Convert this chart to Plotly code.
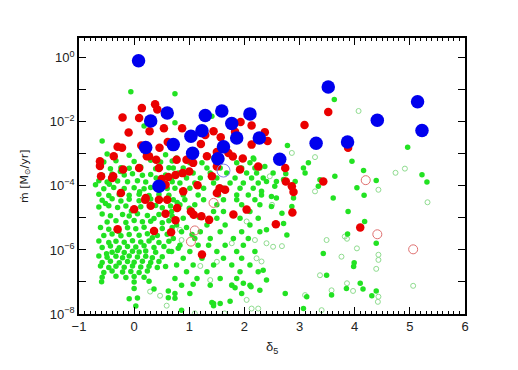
import numpy as np
import plotly.graph_objects as go

# (delta_5, log10 mdot [Msun/yr])
green_pts = [
    (-0.58, -4.45), (-0.40, -4.40), (-0.24, -4.47), (-0.09, -4.42), (0.09, -4.46), (0.30, -4.41),
    (-0.64, -4.66), (-0.46, -4.62), (-0.30, -4.67), (-0.15, -4.63), (0.12, -4.65), (0.39, -4.61), (0.51, -4.68), (0.66, -4.63),
    (-0.58, -4.88), (-0.43, -4.93), (-0.21, -4.89), (-0.09, -4.94), (0.06, -4.87), (0.24, -4.92), (0.45, -4.89), (0.69, -4.95),
    (-0.49, -5.13), (-0.33, -5.09), (-0.15, -5.14), (0.00, -5.08), (0.15, -5.12), (0.30, -5.10), (0.51, -5.15), (0.63, -5.09),
    (-0.61, -5.30), (-0.46, -5.35), (-0.12, -5.31), (0.03, -5.34), (0.18, -5.29), (0.51, -5.33), (0.69, -5.30),
    (-0.55, -5.55), (-0.40, -5.50), (-0.24, -5.56), (-0.09, -5.52), (0.09, -5.54), (0.24, -5.49), (0.42, -5.55), (0.60, -5.51),
    (-0.64, -5.72), (-0.46, -5.77), (-0.33, -5.73), (-0.18, -5.76), (-0.03, -5.71), (0.12, -5.75), (0.27, -5.72), (0.45, -5.77), (0.63, -5.73),
    (-0.58, -5.92), (-0.43, -5.88), (-0.27, -5.93), (-0.12, -5.89), (0.03, -5.91), (0.18, -5.87), (0.36, -5.92), (0.54, -5.89),
    (-0.40, -6.07), (-0.30, -6.02), (-0.18, -6.08), (-0.03, -6.04), (0.09, -6.06), (0.21, -6.03), (0.39, -6.07), (0.63, -6.04),
    (-0.64, -6.19), (-0.49, -6.23), (-0.33, -6.20), (-0.21, -6.24), (-0.09, -6.19), (0.06, -6.22), (0.21, -6.20), (0.33, -6.24), (0.51, -6.21),
    (-0.58, -6.39), (-0.43, -6.35), (-0.27, -6.40), (-0.12, -6.36), (0.00, -6.38), (0.15, -6.35), (0.30, -6.39), (0.45, -6.36),
    (-0.61, -6.50), (-0.46, -6.55), (-0.33, -6.51), (-0.18, -6.54), (-0.03, -6.50), (0.12, -6.53), (0.27, -6.51), (0.42, -6.55), (0.57, -6.52),
    (-0.55, -6.70), (-0.40, -6.66), (-0.21, -6.69), (-0.06, -6.67), (0.09, -6.70), (0.24, -6.66),
    (-0.58, -6.85), (-0.33, -6.82), (-0.15, -6.86), (0.00, -6.83), (0.18, -6.85),
    (-0.59, -6.99), (0.00, -7.00), (0.27, -6.98), (0.00, -7.20), (0.36, -7.22),
    (-0.09, -7.52), (0.06, -7.50), (0.03, -7.75),
    (-0.49, -3.00), (-0.09, -3.04), (0.21, -2.99), (0.57, -3.03),
    (-0.55, -3.25), (-0.33, -3.21), (0.00, -3.24), (0.30, -3.20), (0.48, -3.25), (0.69, -3.22),
    (-0.61, -3.42), (-0.43, -3.46), (-0.24, -3.43), (-0.09, -3.45), (0.12, -3.41), (0.39, -3.46), (0.63, -3.43),
    (-0.58, -3.67), (-0.40, -3.63), (-0.18, -3.66), (-0.03, -3.62), (0.15, -3.67), (0.30, -3.64), (0.57, -3.66),
    (-0.64, -3.84), (-0.49, -3.88), (-0.30, -3.85), (-0.12, -3.87), (0.06, -3.84), (0.21, -3.88), (0.51, -3.85), (0.69, -3.87),
    (-0.55, -4.09), (-0.37, -4.05), (-0.18, -4.08), (0.00, -4.06), (0.18, -4.09), (0.30, -4.05), (0.60, -4.08),
    (-0.64, -4.26), (-0.46, -4.30), (-0.27, -4.27), (-0.09, -4.29), (0.09, -4.26), (0.27, -4.30), (0.45, -4.27), (0.63, -4.29),
    (-0.70, -3.96), (-0.58, -2.60), (0.18, -2.13), (-0.06, -1.06), (0.74, -1.12),
    (0.77, -3.13), (1.44, -3.13), (2.16, -3.13),
    (1.01, -3.28), (1.23, -3.28), (1.86, -3.28), (2.10, -3.28),
    (0.71, -3.44), (0.89, -3.44), (1.32, -3.44), (1.56, -3.44), (1.95, -3.44), (2.28, -3.44),
    (0.80, -3.60), (1.07, -3.60), (1.38, -3.60), (1.68, -3.60), (2.04, -3.60), (2.22, -3.60),
    (0.68, -3.75), (0.95, -3.75), (1.20, -3.75), (1.50, -3.75), (1.83, -3.75), (2.13, -3.75), (2.34, -3.75),
    (0.83, -3.91), (1.10, -3.91), (1.44, -3.91), (1.74, -3.91), (1.98, -3.91), (2.25, -3.91),
    (0.74, -4.07), (1.01, -4.07), (1.26, -4.07), (1.62, -4.07), (1.92, -4.07), (2.16, -4.07),
    (0.89, -4.28), (1.16, -4.28), (1.53, -4.28), (1.86, -4.28), (2.07, -4.28), (2.31, -4.28),
    (1.41, -1.82), (1.77, -1.96), (0.74, -2.03),
    (0.71, -4.43), (0.92, -4.43), (1.26, -4.43), (1.62, -4.43), (1.86, -4.43), (2.19, -4.43),
    (0.83, -4.59), (1.10, -4.59), (1.50, -4.59), (1.95, -4.59), (2.28, -4.59),
    (0.68, -4.80), (1.44, -4.80), (1.62, -4.80), (2.10, -4.80),
    (0.89, -5.01), (1.50, -5.01), (1.92, -5.01), (2.25, -5.01),
    (0.77, -5.22), (1.32, -5.22), (1.65, -5.22), (2.10, -5.22),
    (0.86, -5.43), (1.20, -5.43), (1.56, -5.43), (1.95, -5.43), (2.28, -5.43),
    (0.71, -5.64), (1.10, -5.64), (1.38, -5.64), (1.80, -5.64), (2.07, -5.64),
    (0.83, -5.85), (1.16, -5.85), (1.35, -5.85), (1.65, -5.85), (1.98, -5.85),
    (0.68, -6.05), (1.01, -6.05), (1.50, -6.05), (1.86, -6.05), (2.19, -6.05),
    (0.89, -6.26), (1.23, -6.26), (1.62, -6.26), (1.95, -6.26),
    (0.77, -6.47), (1.07, -6.47), (1.44, -6.47), (1.77, -6.47), (2.10, -6.47),
    (0.95, -6.68), (1.32, -6.68), (1.92, -6.68), (2.25, -6.68),
    (0.74, -6.89), (1.14, -6.89), (1.56, -6.89), (1.86, -6.89),
    (0.86, -7.10), (1.38, -7.10), (1.77, -7.10), (2.10, -7.10),
    (1.01, -7.36), (1.95, -7.36), (1.44, -7.67), (1.56, -7.67), (0.86, -7.88),
    (3.16, -3.28), (3.07, -3.44), (3.10, -3.60), (2.37, -3.39), (2.52, -3.60), (2.40, -3.86),
    (2.58, -3.86), (2.55, -4.01), (2.92, -3.86), (3.64, -3.70), (3.37, -3.81), (3.34, -4.01),
    (3.61, -4.38), (2.31, -4.17), (2.49, -4.33),
    (3.63, -1.30), (2.78, -2.74), (4.96, -2.79), (3.95, -3.23), (4.16, -3.52), (4.39, -3.83),
    (5.22, -3.65), (5.31, -3.88), (2.17, -3.16), (2.19, -3.44), (2.75, -3.62), (2.71, -3.80),
    (2.58, -4.38), (2.89, -4.38), (2.86, -4.64), (2.68, -4.85), (2.49, -4.64), (2.71, -5.17),
    (2.77, -5.53), (2.40, -5.37), (3.88, -4.80), (3.43, -6.11), (3.49, -6.79), (2.34, -6.63),
    (2.40, -6.94), (2.74, -7.36), (3.13, -7.46), (3.58, -7.41), (3.85, -7.20), (3.07, -7.83), (2.28, -7.26),
    (4.04, -4.06), (4.17, -4.29), (4.18, -5.11), (3.87, -5.50), (4.39, -5.79), (3.99, -6.40),
    (3.98, -6.52), (4.10, -7.04), (4.39, -7.28), (4.31, -7.43), (4.15, -7.22),
    (0.62, -7.28), (0.62, -7.49), (0.74, -7.36), (0.74, -7.51), (1.07, -7.07), (1.41, -7.64),
    (1.44, -7.74), (1.74, -7.60), (1.83, -7.18), (1.98, -7.04), (2.12, -7.15),
    (0.78, -4.52), (1.00, -4.70), (1.18, -4.98), (0.95, -5.30), (1.05, -5.52), (0.80, -5.95),
    (-0.52, -4.55), (-0.05, -4.78), (0.36, -5.02), (-0.28, -5.42), (0.33, -5.62), (-0.50, -6.12),
    (-0.25, -3.55), (0.40, -3.75), (-0.45, -3.95), (0.10, -4.18),
]

green_open_pts = [
    (2.04, -5.11), (2.22, -6.26), (1.50, -6.37), (0.86, -5.69), (1.77, -5.79), (2.19, -5.69),
    (1.38, -6.94), (1.77, -7.10), (2.86, -2.97), (2.46, -3.70), (3.28, -4.17),
    (2.40, -5.79), (2.52, -5.90), (2.68, -5.88), (3.49, -5.69), (3.37, -6.79), (3.76, -6.21),
    (3.58, -7.26), (3.40, -7.88), (3.10, -7.41), (3.82, -5.58),
    (4.74, -3.59), (4.91, -3.46), (4.43, -4.12), (5.32, -4.51), (4.43, -6.15), (4.43, -6.31),
    (4.39, -6.59), (4.42, -7.62), (4.04, -5.95), (3.86, -5.65), (3.86, -7.04), (5.06, -7.12),
    (4.07, -1.66), (3.28, -3.10),
    (0.29, -7.30), (0.47, -7.43), (0.59, -7.74), (2.04, -7.56), (2.13, -7.83), (2.25, -7.83),
    (3.97, -7.28), (4.43, -7.46), (1.10, -7.98), (1.64, -7.98),
    (2.31, -6.36), (2.50, -4.59), (0.83, -5.37), (1.20, -6.50),
]

red_pts = [
    (0.38, -1.45), (0.42, -1.61), (0.14, -1.57), (-0.21, -1.86), (0.09, -1.88), (-0.10, -2.33),
    (0.28, -2.29), (0.54, -2.20), (0.87, -2.20), (1.44, -2.29), (1.29, -2.41), (1.93, -2.00),
    (2.13, -2.11), (1.83, -2.31), (2.37, -2.32), (2.42, -2.60), (2.13, -2.71), (1.21, -2.69),
    (1.57, -2.48), (0.13, -2.74), (0.61, -2.63), (0.46, -2.81), (-0.22, -2.81), (-0.30, -2.78),
    (0.77, -3.18), (0.95, -3.18), (1.32, -3.07), (1.71, -2.97), (1.79, -3.08), (1.97, -3.14),
    (2.25, -3.39), (1.92, -3.49), (-0.62, -3.23), (-0.62, -3.38), (-0.37, -3.07), (0.23, -3.07),
    (0.40, -3.18), (1.07, -3.28), (1.50, -3.39), (1.50, -2.94),
    (0.27, -3.07), (0.09, -3.44), (-0.40, -3.75), (-0.24, -4.22), (0.21, -4.38), (0.57, -3.96), (0.45, -3.44),
    (0.00, -4.73), (-0.30, -5.35), (0.36, -5.41), (0.67, -5.45), (0.30, -4.62), (0.78, -4.69),
    (0.57, -4.87), (1.03, -4.80), (1.08, -4.90), (1.22, -4.95), (1.36, -5.06), (0.75, -5.07),
    (1.23, -6.14), (1.80, -4.89), (2.04, -4.74), (2.57, -5.20), (0.89, -4.17), (1.15, -3.98),
    (1.50, -4.22), (1.65, -4.12), (-0.38, -3.70), (-0.60, -3.70), (-0.20, -3.49),
    (0.50, -3.78), (0.62, -3.72), (0.75, -3.66), (0.88, -3.60), (1.00, -3.55), (1.41, -3.70),
    (1.55, -4.07), (0.20, -4.43), (0.45, -4.43), (0.60, -4.43),
    (3.52, -1.69), (3.09, -2.10), (2.74, -3.44), (2.75, -3.86), (2.86, -4.01), (2.89, -4.19),
    (3.43, -3.86), (3.88, -2.81), (2.87, -4.83), (4.10, -5.30),
]

red_open_pts = [(4.20, -3.82), (4.41, -5.51), (5.06, -5.98), (1.44, -4.53), (1.10, -5.39), (1.03, -5.74)]

blue_pts = [
    (0.08, -0.09), (0.60, -1.72), (0.30, -1.97), (0.21, -2.80), (0.71, -2.71), (1.03, -2.45),
    (1.23, -2.28), (1.29, -1.80), (1.59, -1.66), (1.77, -2.05), (1.86, -2.50), (2.10, -1.75),
    (2.27, -2.50), (1.62, -2.78), (1.06, -2.98), (1.52, -3.15), (2.64, -3.17), (0.45, -4.01),
    (3.52, -0.91), (5.14, -1.37), (4.41, -1.95), (5.22, -2.27), (3.30, -2.67), (3.87, -2.63),
]

blue_open_pts = [(1.62, -3.52)]

y_label_powers = [-8, -6, -4, -2, 0]
y_minor_powers = [-7, -5, -3, -1]
x_ticks = [-1, 0, 1, 2, 3, 4, 5, 6]


def xy(pts):
    arr = np.array(pts)
    return arr[:, 0], 10 ** arr[:, 1]


fig = go.Figure()

x, y = xy(green_open_pts)
fig.add_trace(go.Scatter(x=x, y=y, mode="markers", marker=dict(symbol="circle-open", size=5, color="#8fdc8f", line=dict(width=1))))
x, y = xy(green_pts)
fig.add_trace(go.Scatter(x=x, y=y, mode="markers", marker=dict(size=5.5, color="#22e222", line=dict(width=0))))
x, y = xy(red_pts)
fig.add_trace(go.Scatter(x=x, y=y, mode="markers", marker=dict(size=8.5, color="#ea0000", line=dict(width=0))))
x, y = xy(red_open_pts)
fig.add_trace(go.Scatter(x=x, y=y, mode="markers", marker=dict(symbol="circle-open", size=9, color="#e07070", line=dict(width=1))))
x, y = xy(blue_pts)
fig.add_trace(go.Scatter(x=x, y=y, mode="markers", marker=dict(size=13.5, color="#0000ee", line=dict(width=0))))
x, y = xy(blue_open_pts)
fig.add_trace(go.Scatter(x=x, y=y, mode="markers", marker=dict(symbol="circle-open", size=13, color="#8080e0", line=dict(width=1))))

fig.update_layout(
    width=518, height=370, showlegend=False, plot_bgcolor="white", paper_bgcolor="white",
    margin=dict(l=71, r=61, t=30, b=64),
    font=dict(family="Liberation Sans, Arial, sans-serif", size=13, color="#222222"),
)
fig.update_xaxes(
    range=[-1, 6], tickvals=x_ticks, ticktext=[str(v).replace("-", "−") for v in x_ticks],
    ticks="inside", ticklen=7, tickcolor="black", showline=True, linecolor="black", linewidth=1.5, mirror="ticks",
    showgrid=False, zeroline=False, minor=dict(dtick=0.1, ticks="inside", ticklen=3, tickcolor="black", showgrid=False),
)
fig.update_yaxes(
    type="log", range=[-8, 0.62], tickvals=[10.0 ** p for p in y_label_powers],
    ticktext=[f"10<sup>{str(p).replace('-', '−')}</sup>" for p in y_label_powers],
    ticks="inside", ticklen=7, tickcolor="black", showline=True, linecolor="black", linewidth=1.5, mirror="ticks",
    showgrid=False, zeroline=False,
    minor=dict(tickmode="array", tickvals=[10.0 ** p for p in y_minor_powers], ticks="inside", ticklen=7, tickcolor="black", showgrid=False),
)

# axis titles placed as annotations to sit where the reference has them
fig.add_annotation(text="δ<sub>5</sub>", xref="paper", yref="paper", x=0.5, y=-0.12, showarrow=False,
                   xanchor="center", yanchor="middle", font=dict(size=13))
fig.add_annotation(text="ṁ [M<sub>⊙</sub>/yr]", xref="paper", yref="paper", x=-0.14, y=0.5, showarrow=False,
                   textangle=-90, xanchor="center", yanchor="middle", font=dict(family="DejaVu Sans", size=11))

fig.write_html("out.html")
